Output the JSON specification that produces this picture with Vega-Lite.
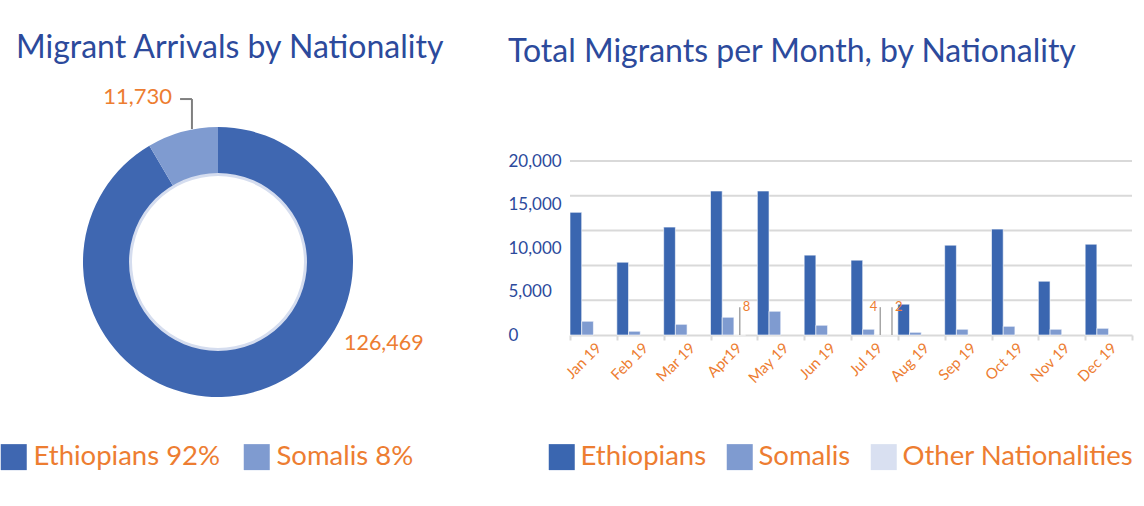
{
  "$schema": "https://vega.github.io/schema/vega-lite/v6.json",
  "padding": {"left": 0, "top": 32, "right": 0, "bottom": 0},
  "autosize": {"type": "pad"},
  "background": "white",
  "bounds": "flush",
  "spacing": 134,
  "config": {
    "view": {"stroke": null},
    "font": "Lato",
    "title": {"font": "Lato", "fontSize": 32, "fontWeight": "normal", "color": "#2C4A9C", "anchor": "start", "baseline": "alphabetic"}
  },
  "resolve": {"scale": {"color": "independent"}, "legend": {"color": "independent"}},
  "hconcat": [
    {
      "width": 436,
      "height": 202,
      "title": {"text": "Migrant Arrivals by Nationality", "frame": "group", "dx": 16, "offset": 21},
      "data": {"values": [
        {"nationality": "Ethiopians", "arrivals": 126469, "order": 1},
        {"nationality": "Somalis", "arrivals": 11730, "order": 2}
      ]},
      "layer": [
        {
          "mark": {"type": "arc", "radius": 135, "radius2": 88},
          "encoding": {
            "theta": {"field": "arrivals", "type": "quantitative", "stack": true},
            "order": {"field": "order", "type": "quantitative"},
            "color": {
              "field": "nationality", "type": "nominal",
              "scale": {"domain": ["Ethiopians", "Somalis"], "range": ["#3F67B1", "#7F9BD0"]},
              "legend": {
                "orient": "none", "legendX": 0, "legendY": 282, "direction": "horizontal", "title": null,
                "symbolType": "square", "symbolSize": 676, "symbolStrokeWidth": 0,
                "labelFontSize": 27.5, "labelFont": "Lato", "labelColor": "#ED7D31", "labelOffset": 6,
                "columnPadding": 22, "labelLimit": 400, "padding": 0,
                "labelExpr": "datum.label == 'Ethiopians' ? 'Ethiopians 92%' : 'Somalis 8%'"
              }
            }
          }
        },
        {
          "data": {"values": [{"ring": "inner edge"}]},
          "mark": {"type": "arc", "radius": 89, "radius2": 86, "theta": 0, "theta2": 6.2832, "color": "#D5DDEF"},
          "encoding": {}
        },
        {
          "transform": [{"filter": "datum.nationality == 'Somalis'"}],
          "mark": {"type": "text", "align": "right", "baseline": "alphabetic", "fontSize": 22, "font": "Lato", "color": "#ED7D31"},
          "encoding": {
            "x": {"datum": -0.341, "type": "quantitative", "scale": {"domain": [-1.6148, 1.6148], "nice": false, "zero": false}, "axis": null},
            "y": {"datum": 1.17, "type": "quantitative", "scale": {"domain": [-0.7481, 0.7481], "nice": false, "zero": false}, "axis": null},
            "text": {"field": "arrivals", "type": "quantitative", "format": ","}
          }
        },
        {
          "transform": [{"filter": "datum.nationality == 'Ethiopians'"}],
          "mark": {"type": "text", "align": "left", "baseline": "alphabetic", "fontSize": 21.5, "font": "Lato", "color": "#ED7D31"},
          "encoding": {
            "x": {"datum": 0.933, "type": "quantitative"},
            "y": {"datum": -0.652, "type": "quantitative"},
            "text": {"field": "arrivals", "type": "quantitative", "format": ","}
          }
        },
        {
          "transform": [{"filter": "datum.nationality == 'Somalis'"}],
          "mark": {"type": "rule", "color": "#7F7F7F", "strokeWidth": 2},
          "encoding": {
            "x": {"datum": -0.281, "type": "quantitative"},
            "x2": {"datum": -0.193},
            "y": {"datum": 1.207, "type": "quantitative"}
          }
        },
        {
          "transform": [{"filter": "datum.nationality == 'Somalis'"}],
          "mark": {"type": "rule", "color": "#7F7F7F", "strokeWidth": 2},
          "encoding": {
            "x": {"datum": -0.193, "type": "quantitative"},
            "y": {"datum": 1.207, "type": "quantitative"},
            "y2": {"datum": 0.985}
          }
        }
      ]
    },
    {
      "width": 562,
      "height": 174,
      "title": {"text": "Total Migrants per Month, by Nationality", "offset": 83},
      "data": {"values": [
        {"month": "Jan 19", "group": "Ethiopians", "migrants": 14100},
        {"month": "Feb 19", "group": "Ethiopians", "migrants": 8370},
        {"month": "Mar 19", "group": "Ethiopians", "migrants": 12400},
        {"month": "Apr19", "group": "Ethiopians", "migrants": 16550},
        {"month": "May 19", "group": "Ethiopians", "migrants": 16550},
        {"month": "Jun 19", "group": "Ethiopians", "migrants": 9180},
        {"month": "Jul 19", "group": "Ethiopians", "migrants": 8600},
        {"month": "Aug 19", "group": "Ethiopians", "migrants": 3540},
        {"month": "Sep 19", "group": "Ethiopians", "migrants": 10330},
        {"month": "Oct 19", "group": "Ethiopians", "migrants": 12170},
        {"month": "Nov 19", "group": "Ethiopians", "migrants": 6180},
        {"month": "Dec 19", "group": "Ethiopians", "migrants": 10440},
        {"month": "Jan 19", "group": "Somalis", "migrants": 1580},
        {"month": "Feb 19", "group": "Somalis", "migrants": 430},
        {"month": "Mar 19", "group": "Somalis", "migrants": 1230},
        {"month": "Apr19", "group": "Somalis", "migrants": 2040},
        {"month": "May 19", "group": "Somalis", "migrants": 2730},
        {"month": "Jun 19", "group": "Somalis", "migrants": 1120},
        {"month": "Jul 19", "group": "Somalis", "migrants": 660},
        {"month": "Aug 19", "group": "Somalis", "migrants": 310},
        {"month": "Sep 19", "group": "Somalis", "migrants": 660},
        {"month": "Oct 19", "group": "Somalis", "migrants": 1000},
        {"month": "Nov 19", "group": "Somalis", "migrants": 660},
        {"month": "Dec 19", "group": "Somalis", "migrants": 770},
        {"month": "Apr19", "group": "Other Nationalities", "migrants": 8},
        {"month": "Jul 19", "group": "Other Nationalities", "migrants": 4},
        {"month": "Jul 19", "group": "Not specified", "migrants": 2}
      ]},
      "layer": [
        {
          "data": {"values": [{"level": 4000}, {"level": 8000}, {"level": 12000}, {"level": 16000}, {"level": 20000}]},
          "mark": {"type": "rule", "color": "#D9D9D9", "strokeWidth": 2},
          "encoding": {
            "y": {"field": "level", "type": "quantitative"}
          }
        },
        {
          "mark": {"type": "bar", "stroke": "white", "strokeWidth": 0.6},
          "encoding": {
            "x": {
              "field": "month", "type": "nominal",
              "sort": ["Jan 19", "Feb 19", "Mar 19", "Apr19", "May 19", "Jun 19", "Jul 19", "Aug 19", "Sep 19", "Oct 19", "Nov 19", "Dec 19"],
              "scale": {"paddingInner": 0, "paddingOuter": 0},
              "axis": {
                "title": null, "labelAngle": -45, "labelColor": "#ED7D31", "labelFontSize": 15, "labelFont": "Lato",
                "domainColor": "#D9D9D9", "domainWidth": 2, "tickColor": "#D9D9D9", "tickWidth": 2, "tickSize": 5,
                "tickBand": "extent", "labelPadding": 0
              }
            },
            "xOffset": {
              "field": "group", "type": "nominal",
              "scale": {"domain": ["Ethiopians", "Somalis", "Other Nationalities", "Not specified"], "paddingInner": 0, "paddingOuter": 0}
            },
            "y": {
              "field": "migrants", "type": "quantitative",
              "scale": {"domain": [0, 20000], "nice": false},
              "axis": {
                "orient": "left",
                "values": [0, 5000, 10000, 15000, 20000],
                "format": ",.0f",
                "grid": false,
                "ticks": false, "domain": false,
                "title": null, "labelAlign": "left", "labelPadding": 62, "labelColor": "#2C4A9C", "labelFontSize": 17, "labelFont": "Lato"
              }
            },
            "color": {
              "field": "group", "type": "nominal",
              "scale": {"domain": ["Ethiopians", "Somalis", "Other Nationalities", "Not specified"], "range": ["#3A66B0", "#7F9BD0", "#D9E0F1", "#D9E0F1"]},
              "legend": {
                "orient": "none", "legendX": -22, "legendY": 282, "direction": "horizontal", "title": null,
                "values": ["Ethiopians", "Somalis", "Other Nationalities"],
                "symbolType": "square", "symbolSize": 676, "symbolStrokeWidth": 0,
                "labelFontSize": 27.5, "labelFont": "Lato", "labelColor": "#ED7D31", "labelOffset": 5,
                "columnPadding": 19, "labelLimit": 400, "padding": 0
              }
            }
          }
        },
        {
          "transform": [{"filter": "datum.migrants < 100"}],
          "mark": {"type": "rule", "color": "#A6A6A6", "strokeWidth": 1.5},
          "encoding": {
            "x": {"field": "month", "type": "nominal", "sort": ["Jan 19", "Feb 19", "Mar 19", "Apr19", "May 19", "Jun 19", "Jul 19", "Aug 19", "Sep 19", "Oct 19", "Nov 19", "Dec 19"]},
            "xOffset": {"field": "group", "type": "nominal"},
            "y": {"field": "migrants", "type": "quantitative"},
            "y2": {"datum": 3200}
          }
        },
        {
          "transform": [{"filter": "datum.migrants < 100 && datum.group != 'Other Nationalities' || datum.month == 'Apr19' && datum.migrants < 100"}],
          "mark": {"type": "text", "align": "left", "dx": 3, "baseline": "middle", "fontSize": 13, "font": "Lato", "color": "#ED7D31"},
          "encoding": {
            "x": {"field": "month", "type": "nominal", "sort": ["Jan 19", "Feb 19", "Mar 19", "Apr19", "May 19", "Jun 19", "Jul 19", "Aug 19", "Sep 19", "Oct 19", "Nov 19", "Dec 19"]},
            "xOffset": {"field": "group", "type": "nominal"},
            "y": {"field": "migrants", "type": "quantitative"},
            "yOffset": {"value": -28},
            "text": {"field": "migrants", "type": "quantitative"}
          }
        },
        {
          "transform": [{"filter": "datum.month == 'Jul 19' && datum.group == 'Other Nationalities'"}],
          "mark": {"type": "text", "align": "right", "dx": -3, "baseline": "middle", "fontSize": 13, "font": "Lato", "color": "#ED7D31"},
          "encoding": {
            "x": {"field": "month", "type": "nominal", "sort": ["Jan 19", "Feb 19", "Mar 19", "Apr19", "May 19", "Jun 19", "Jul 19", "Aug 19", "Sep 19", "Oct 19", "Nov 19", "Dec 19"]},
            "xOffset": {"field": "group", "type": "nominal"},
            "y": {"field": "migrants", "type": "quantitative"},
            "yOffset": {"value": -28},
            "text": {"field": "migrants", "type": "quantitative"}
          }
        }
      ]
    }
  ]
}
